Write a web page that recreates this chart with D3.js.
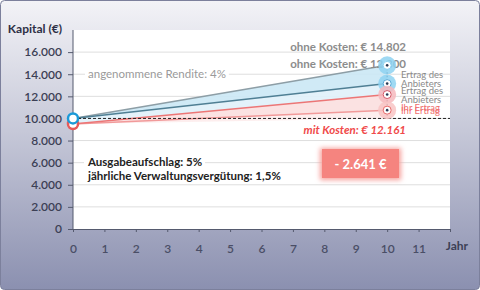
<!DOCTYPE html>
<html>
<head>
<meta charset="utf-8">
<script src="https://cdn.jsdelivr.net/npm/d3@7"></script>
<style>
  body { margin: 0; background: #fff; }
  svg { display: block; font-family: Lato, "Open Sans", sans-serif; }
</style>
</head>
<body>
<div id="chart"></div>
<script>
// chart values
const years = [0, 10];
const ohneKosten = [10000, 14802];
const anbieter = [10000, 13150];
const mitKosten = [9500, 12161];
const mitKostenLow = [9500, 10750];
const yTicks = [0, 2000, 4000, 6000, 8000, 10000, 12000, 14000, 16000];
const xTicks = [0, 1, 2, 3, 4, 5, 6, 7, 8, 9, 10, 11];
const startValue = 10000;
const diffLabel = "- 2.641 €";

const width = 480, height = 290;
const margin = { left: 73, right: 30, top: 30, bottom: 61 };

const svg = d3.select("#chart").append("svg")
    .attr("width", width)
    .attr("height", height);

const defs = svg.append("defs");
const bg = defs.append("linearGradient").attr("id", "bg")
    .attr("x1", 0).attr("y1", 0).attr("x2", 0).attr("y2", 1);
bg.append("stop").attr("offset", "0%").attr("stop-color", "#f3f3f7");
bg.append("stop").attr("offset", "45%").attr("stop-color", "#c6c8d8");
bg.append("stop").attr("offset", "100%").attr("stop-color", "#8b90b0");

const glow = defs.append("filter").attr("id", "glow")
    .attr("x", "-30%").attr("y", "-40%").attr("width", "160%").attr("height", "180%");
glow.append("feGaussianBlur").attr("stdDeviation", 2.5);

// background frame
svg.append("rect")
    .attr("x", 0.5).attr("y", 0.5)
    .attr("width", width - 1).attr("height", height - 1)
    .attr("rx", 4)
    .attr("fill", "url(#bg)")
    .attr("stroke", "#7c809c");

const x = d3.scaleLinear().domain([0, 12]).range([margin.left, width - margin.right]);
const y = d3.scaleLinear().domain([0, 18000]).range([height - margin.bottom, margin.top]);

// plot area
svg.append("rect")
    .attr("x", x(0)).attr("y", y(18000))
    .attr("width", x(12) - x(0)).attr("height", y(0) - y(18000))
    .attr("fill", "#fff");

// gridlines
svg.append("g").selectAll("line")
    .data(yTicks.filter(d => d > 0))
    .enter().append("line")
    .attr("x1", x(0)).attr("x2", x(12))
    .attr("y1", d => y(d)).attr("y2", d => y(d))
    .attr("stroke", "#dedede");

// axes
const yAxis = svg.append("g")
    .attr("transform", `translate(${x(0)},0)`)
    .call(d3.axisLeft(y).tickValues(yTicks).tickSize(5).tickPadding(6)
        .tickFormat(d => d3.format(",")(d).replace(/,/g, ".")));
const xAxis = svg.append("g")
    .attr("transform", `translate(0,${y(0)})`)
    .call(d3.axisBottom(x).tickValues(xTicks.concat([12])).tickSize(3).tickPadding(12)
        .tickFormat(d => d === 12 ? "" : d));
[yAxis, xAxis].forEach(a => {
    a.select(".domain").attr("stroke", "#555a6e");
    a.selectAll(".tick line").attr("stroke", "#555a6e");
    a.selectAll("text")
        .attr("fill", "#3c3f55")
        .style("font-family", "Lato, sans-serif")
        .style("font-size", "12px")
        .style("font-weight", "600");
});
xAxis.selectAll("text").attr("fill", "#4a4e66");
yAxis.select(".domain").attr("d", `M0,${y(18000)}V${y(0)}`);

svg.append("text")
    .attr("x", 62).attr("y", 33)
    .attr("text-anchor", "end")
    .attr("fill", "#2e3045")
    .style("font-size", "12px").style("font-weight", "bold")
    .text("Kapital (€)");
svg.append("text")
    .attr("x", 468).attr("y", 250)
    .attr("text-anchor", "end")
    .attr("fill", "#3c3f55")
    .style("font-size", "12px").style("font-weight", "bold")
    .text("Jahr");

// text with white backing on the plot
function boxedText(tx, ty, str, opts) {
    const g = svg.append("g");
    const t = g.append("text")
        .attr("x", tx).attr("y", ty)
        .attr("fill", opts.color)
        .style("font-size", opts.size + "px")
        .style("font-weight", opts.weight || "normal")
        .text(str);
    const b = t.node().getBBox();
    g.insert("rect", "text")
        .attr("x", b.x - 3).attr("y", b.y)
        .attr("width", b.width + 6).attr("height", b.height)
        .attr("fill", "#fff");
    return t;
}
boxedText(88, 78, "angenommene Rendite: 4%", { color: "#9a9a9a", size: 11.5 });
boxedText(88, 166, "Ausgabeaufschlag: 5%", { color: "#222", size: 11.5, weight: "bold" });
boxedText(88, 180, "jährliche Verwaltungsvergütung: 1,5%", { color: "#222", size: 11.5, weight: "bold" });

// bands between lines
const pts = arr => years.map((yr, i) => ({ yr, v: arr[i] }));
function band(top, bottom, fill, op) {
    const data = years.map((yr, i) => ({ yr, t: top[i], b: bottom[i] }));
    svg.append("path")
        .datum(data)
        .attr("d", d3.area().x(d => x(d.yr)).y0(d => y(d.b)).y1(d => y(d.t)))
        .attr("fill", fill)
        .attr("fill-opacity", op);
}
band(ohneKosten, anbieter, "#cbe8f5", 0.9);
band(anbieter, mitKosten, "#e0f1f9", 0.9);
band(mitKosten, mitKostenLow, "#fbdfdf", 0.9);
band(mitKostenLow, mitKostenLow.map((v, i) => i === 0 ? v : startValue), "#fdecec", 0.9);

const line = d3.line().x(d => x(d.yr)).y(d => y(d.v));
function drawLine(arr, color, w) {
    svg.append("path").datum(pts(arr))
        .attr("d", line)
        .attr("fill", "none")
        .attr("stroke", color)
        .attr("stroke-width", w);
}
drawLine(mitKostenLow, "#f19a9a", 1.5);
drawLine(mitKosten, "#ec7676", 1.5);
drawLine(ohneKosten, "#8d9ea6", 1.5);
drawLine(anbieter, "#4f7f94", 1.5);

// dashed start level
svg.append("line")
    .attr("x1", x(0)).attr("x2", x(12))
    .attr("y1", y(startValue)).attr("y2", y(startValue))
    .attr("stroke", "#222").attr("stroke-dasharray", "3,2");

// labels at the end
svg.append("text")
    .attr("x", 406).attr("y", 51).attr("text-anchor", "end")
    .attr("fill", "#8c8c8c")
    .style("font-size", "11.5px").style("font-weight", "bold")
    .text("ohne Kosten: € " + d3.format(",")(ohneKosten[1]).replace(/,/g, "."));
svg.append("text")
    .attr("x", 406).attr("y", 68).attr("text-anchor", "end")
    .attr("fill", "#8c8c8c")
    .style("font-size", "11.5px").style("font-weight", "bold")
    .text("ohne Kosten: € 12.800");

// these overlap in the reference too (labels mid-transition)
const side = [
    { t: "Ertrag des", yy: 78, c: "#8a8a8a" },
    { t: "Anbieters", yy: 87, c: "#8a8a8a" },
    { t: "Ertrag des", yy: 94, c: "#8a8a8a" },
    { t: "Anbieters", yy: 103, c: "#8a8a8a" },
    { t: "Ihr Ertrag", yy: 111, c: "#f07070" },
    { t: "Ihr Ertrag", yy: 114, c: "#f07070" }
];
svg.append("g").selectAll("text")
    .data(side)
    .enter().append("text")
    .attr("x", 401).attr("y", d => d.yy)
    .attr("fill", d => d.c)
    .style("font-size", "9.5px")
    .text(d => d.t);

svg.append("text")
    .attr("x", 406).attr("y", 134).attr("text-anchor", "end")
    .attr("fill", "#f04a4a")
    .style("font-size", "11.5px").style("font-weight", "bold").style("font-style", "italic")
    .text("mit Kosten: € " + d3.format(",")(mitKosten[1]).replace(/,/g, "."));

// dotted connector at year 10
svg.append("line")
    .attr("x1", x(10)).attr("x2", x(10))
    .attr("y1", y(ohneKosten[1])).attr("y2", y(startValue))
    .attr("stroke", "#2a3a55").attr("stroke-width", 1.2)
    .attr("stroke-dasharray", "1.5,2");

// end markers
function endMarker(v, glowColor, ring) {
    const g = svg.append("g").attr("transform", `translate(${x(10)},${y(v)})`);
    g.append("circle").attr("r", 9).attr("fill", glowColor).attr("fill-opacity", 0.85);
    g.append("circle").attr("r", 4).attr("fill", "#fff").attr("stroke", ring).attr("stroke-width", 1);
    g.append("circle").attr("r", 1.3).attr("fill", "#2a3a55");
}
endMarker(ohneKosten[1], "#8ed2f1", "#8ed2f1");
endMarker(anbieter[1], "#8ed2f1", "#5aa9d6");
endMarker(mitKosten[1], "#f6b8bd", "#d65a6a");
endMarker(mitKostenLow[1], "#f8c4c4", "#e86a6a");

// start markers
svg.append("circle")
    .attr("cx", x(0)).attr("cy", y(mitKosten[0]))
    .attr("r", 5).attr("fill", "#fff")
    .attr("stroke", "#e65a5a").attr("stroke-width", 2.5);
svg.append("circle")
    .attr("cx", x(0)).attr("cy", y(ohneKosten[0]))
    .attr("r", 5).attr("fill", "#fff")
    .attr("stroke", "#1c9ad8").attr("stroke-width", 2.5);

// cost difference box
const box = svg.append("g").attr("transform", "translate(322,149)");
box.append("rect")
    .attr("x", -2).attr("y", -1).attr("width", 81).attr("height", 32)
    .attr("fill", "#f6a09c").attr("filter", "url(#glow)");
box.append("rect")
    .attr("width", 77).attr("height", 29)
    .attr("fill", "#f5847f");
box.append("text")
    .attr("x", 38.5).attr("y", 19.5)
    .attr("text-anchor", "middle")
    .attr("fill", "#fff")
    .style("font-size", "13px").style("font-weight", "bold")
    .text(diffLabel);
</script>
</body>
</html>
